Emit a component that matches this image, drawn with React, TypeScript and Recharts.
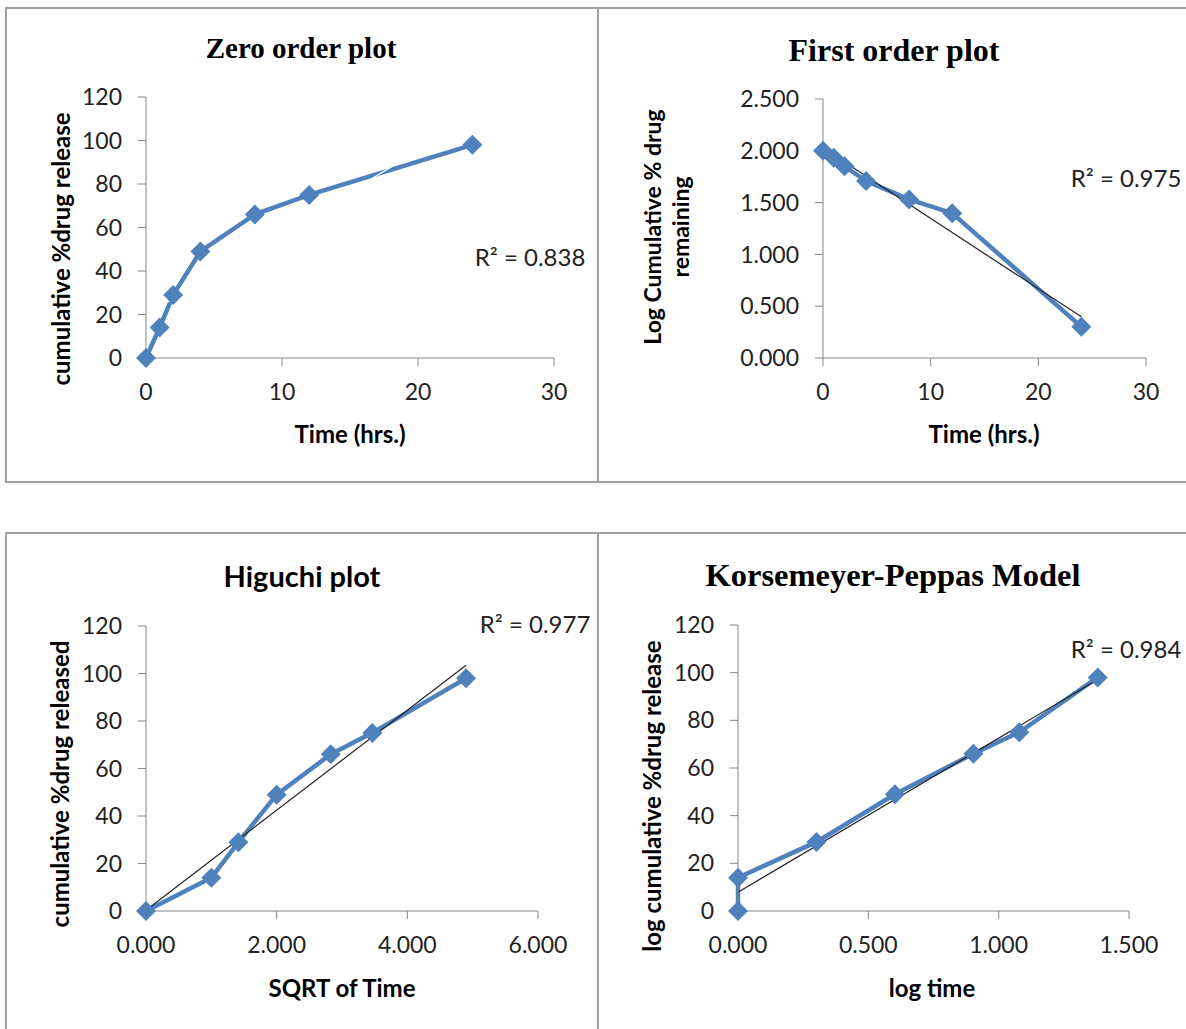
import React from "react"
import { LineChart, Line, XAxis, YAxis } from "recharts"

const BLUE = "#4f81bd"
const AXIS_GRAY = "#868686"
const BORDER = "#a0a0a0"
const SANS = "Lato, 'Open Sans', sans-serif"
const SERIF = "'Liberation Serif', 'Times New Roman', serif"

// sampling times and cumulative release
const time = [0, 1, 2, 4, 8, 12, 24]
const release = [0, 14, 29, 49, 66, 75, 98]
const logRemaining = [2.0, 1.934, 1.851, 1.708, 1.531, 1.398, 0.301]
const sqrtTime = [0, 1.0, 1.414, 2.0, 2.828, 3.464, 4.899]
const logTime = [0, 0, 0.301, 0.602, 0.903, 1.079, 1.38]
const kpRelease = [0, 14, 29, 49, 66, 75, 98]

// trendline end points
const zeroTrendX = [0, 24]
const zeroTrendY = [19.8, 110.4]
const firstTrendX = [0, 24]
const firstTrendY = [2.026, 0.397]
const higuchiTrendX = [0, 4.899]
const higuchiTrendY = [0.3, 103.5]
const kpTrendX = [0, 1.38]
const kpTrendY = [7.9, 97.1]

const timeTicks = [0, 10, 20, 30]
const releaseTicks = [0, 20, 40, 60, 80, 100, 120]
const logRemTicks = [0, 0.5, 1, 1.5, 2, 2.5]
const sqrtTicks = [0, 2, 4, 6]
const logTimeTicks = [0, 0.5, 1, 1.5]

const zip = (xs: number[], ys: number[]) => xs.map((x, i) => ({ x, y: ys[i] }))

function diamond(p: any) {
  const { cx, cy, index } = p
  if (cx == null || cy == null) return <g key={index} />
  const r = 10
  return (
    <path
      key={index}
      d={`M${cx},${cy - r}L${cx + r},${cy}L${cx},${cy + r}L${cx - r},${cy}Z`}
      fill={BLUE}
    />
  )
}

interface Rect { l: number; t: number; r: number; b: number }

interface PlotProps {
  rect: Rect
  data: { x: number; y: number }[]
  trend: { x: number; y: number }[]
  trendColor: string
  xDomain: [number, number]
  yDomain: [number, number]
  xTicks: number[]
  yTicks: number[]
  xFmt?: (v: number) => string
  yFmt?: (v: number) => string
}

const LEFT = 100
const TOP = 20
const RIGHT = 50
const BOTTOM = 70

function Plot({ rect, data, trend, trendColor, xDomain, yDomain, xTicks, yTicks, xFmt, yFmt }: PlotProps) {
  const w = rect.r - rect.l + LEFT + RIGHT
  const h = rect.b - rect.t + TOP + BOTTOM
  const tick = { fill: "#222", fontSize: 23, fontFamily: SANS }
  return (
    <div style={{ position: "absolute", left: rect.l - LEFT, top: rect.t - TOP }}>
      <LineChart width={w} height={h} data={data} margin={{ top: TOP, right: RIGHT, bottom: 0, left: 0 }}>
        <XAxis
          dataKey="x"
          type="number"
          domain={xDomain}
          ticks={xTicks}
          tickFormatter={xFmt}
          height={BOTTOM}
          stroke={AXIS_GRAY}
          tickSize={8}
          tickMargin={18}
          tick={tick}
        />
        <YAxis
          type="number"
          domain={yDomain}
          ticks={yTicks}
          tickFormatter={yFmt}
          width={LEFT}
          stroke={AXIS_GRAY}
          tickSize={8}
          tickMargin={16}
          tick={tick}
        />
        <Line
          dataKey="y"
          stroke={BLUE}
          strokeWidth={4.5}
          dot={diamond}
          activeDot={false}
          isAnimationActive={false}
        />
        <Line
          data={trend}
          dataKey="y"
          stroke={trendColor}
          strokeWidth={1.2}
          dot={false}
          activeDot={false}
          isAnimationActive={false}
        />
      </LineChart>
    </div>
  )
}

function Txt({ x, y, children, style }: { x: number; y: number; children: React.ReactNode; style?: React.CSSProperties }) {
  return (
    <div
      style={{
        position: "absolute",
        left: x,
        top: y,
        transform: "translate(-50%, -50%)",
        whiteSpace: "nowrap",
        color: "#000",
        ...style,
      }}
    >
      {children}
    </div>
  )
}

function VTxt({ x, y, children, style }: { x: number; y: number; children: React.ReactNode; style?: React.CSSProperties }) {
  return (
    <div
      style={{
        position: "absolute",
        left: x,
        top: y,
        transform: "translate(-50%, -50%) rotate(-90deg)",
        whiteSpace: "nowrap",
        textAlign: "center",
        color: "#000",
        ...style,
      }}
    >
      {children}
    </div>
  )
}

function Box({ l, t, w, h }: { l: number; t: number; w: number; h: number }) {
  return (
    <div
      style={{
        position: "absolute",
        left: l,
        top: t,
        width: w,
        height: h,
        border: `2px solid ${BORDER}`,
        boxSizing: "border-box",
      }}
    />
  )
}

const titleSerif: React.CSSProperties = { fontFamily: SERIF, fontWeight: 700, fontSize: 30 }
const titleSans: React.CSSProperties = { fontFamily: SANS, fontWeight: 700, fontSize: 29 }
const axisTitle: React.CSSProperties = { fontFamily: SANS, fontWeight: 700, fontSize: 24 }
const rLabel: React.CSSProperties = { fontFamily: SANS, fontSize: 24, color: "#222" }

const fmt3 = (v: number) => v.toFixed(3)

export default function App() {
  return (
    <div style={{ position: "absolute", left: 0, top: 0, width: 1186, height: 1029, overflow: "hidden", background: "#fff" }}>
      <Box l={5} t={7} w={594} h={476} />
      <Box l={597} t={7} w={600} h={476} />
      <Box l={5} t={532} w={594} h={520} />
      <Box l={597} t={532} w={600} h={520} />

      {/* Zero order */}
      <Txt x={301} y={48} style={{ ...titleSerif, fontSize: 29 }}>Zero order plot</Txt>
      <Plot
        rect={{ l: 146, t: 97, r: 554, b: 358 }}
        data={zip(time, release)}
        trend={zip(zeroTrendX, zeroTrendY)}
        trendColor="#ffffff"
        xDomain={[0, 30]}
        yDomain={[0, 120]}
        xTicks={timeTicks}
        yTicks={releaseTicks}
      />
      <VTxt x={60} y={249} style={axisTitle}>cumulative %drug release</VTxt>
      <Txt x={350} y={433} style={axisTitle}>Time (hrs.)</Txt>
      <Txt x={530} y={256} style={rLabel}>R² = 0.838</Txt>

      {/* First order */}
      <Txt x={894} y={50} style={{ ...titleSerif, fontSize: 32 }}>First order plot</Txt>
      <Plot
        rect={{ l: 823, t: 99, r: 1146, b: 358 }}
        data={zip(time, logRemaining)}
        trend={zip(firstTrendX, firstTrendY)}
        trendColor="#222"
        xDomain={[0, 30]}
        yDomain={[0, 2.5]}
        xTicks={timeTicks}
        yTicks={logRemTicks}
        yFmt={fmt3}
      />
      <VTxt x={666} y={227} style={{ ...axisTitle, fontSize: 23, lineHeight: "28px" }}>
        Log Cumulative % drug
        <br />
        remaining
      </VTxt>
      <Txt x={984} y={433} style={axisTitle}>Time (hrs.)</Txt>
      <Txt x={1126} y={177} style={rLabel}>R² = 0.975</Txt>

      {/* Higuchi */}
      <Txt x={302} y={575} style={titleSans}>Higuchi plot</Txt>
      <Plot
        rect={{ l: 146, t: 626, r: 538, b: 911 }}
        data={zip(sqrtTime, release)}
        trend={zip(higuchiTrendX, higuchiTrendY)}
        trendColor="#222"
        xDomain={[0, 6]}
        yDomain={[0, 120]}
        xTicks={sqrtTicks}
        yTicks={releaseTicks}
        xFmt={fmt3}
      />
      <VTxt x={59} y={784} style={axisTitle}>cumulative %drug released</VTxt>
      <Txt x={342} y={987} style={axisTitle}>SQRT of Time</Txt>
      <Txt x={535} y={623} style={rLabel}>R² = 0.977</Txt>

      {/* Korsmeyer-Peppas */}
      <Txt x={893} y={575} style={{ ...titleSerif, fontSize: 32.5 }}>Korsemeyer-Peppas Model</Txt>
      <Plot
        rect={{ l: 738, t: 625, r: 1129, b: 911 }}
        data={zip(logTime, kpRelease)}
        trend={zip(kpTrendX, kpTrendY)}
        trendColor="#222"
        xDomain={[0, 1.5]}
        yDomain={[0, 120]}
        xTicks={logTimeTicks}
        yTicks={releaseTicks}
        xFmt={fmt3}
      />
      <VTxt x={651} y={796} style={axisTitle}>log cumulative %drug release</VTxt>
      <Txt x={932} y={987} style={axisTitle}>log time</Txt>
      <Txt x={1126} y={648} style={rLabel}>R² = 0.984</Txt>
    </div>
  )
}
